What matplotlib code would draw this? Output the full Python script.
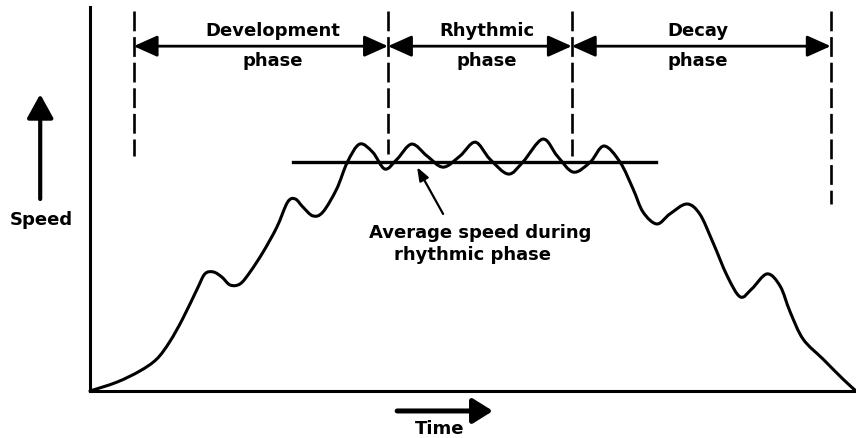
import matplotlib
matplotlib.use("Agg")
import matplotlib.pyplot as plt
import numpy as np
from matplotlib.patches import FancyArrowPatch, ArrowStyle, PathPatch
from matplotlib.path import Path

# ---- data (time 0-100, speed 0-100, arbitrary units) ----
time = [0, 3.5, 6.5, 8.7, 10.4, 12.1, 14.0, 15.0, 16.1, 17.2, 18.3, 19.6, 20.9, 22.6,
        24.4, 25.8, 26.8, 27.8, 29.1, 30.4, 32.2, 33.6, 35.2, 36.9, 38.5, 40.1, 42.0,
        44.0, 46.1, 48.3, 50.3, 52.2, 54.6, 56.5, 59.1, 61.0, 63.1, 65.3, 67.1, 69.2,
        70.9, 72.2, 74.0, 75.7, 77.9, 79.6, 81.3, 83.2, 84.9, 86.4, 88.4, 90.1, 91.4,
        93.1, 95.7, 98.3, 100]
speed = [0, 2.3, 5.2, 8.3, 12.8, 18.8, 26.6, 30.5, 31.0, 29.7, 27.6, 27.9, 31.0, 36.2,
         42.7, 49.2, 50.0, 47.9, 45.6, 46.6, 52.6, 59.6, 64.3, 62.2, 57.8, 60.4, 64.3,
         61.2, 58.3, 61.2, 64.8, 60.4, 56.5, 59.6, 65.6, 61.2, 57.0, 59.6, 63.8, 59.6,
         52.6, 46.6, 43.5, 46.1, 48.7, 46.1, 38.8, 29.9, 24.5, 26.6, 30.5, 27.3, 20.6,
         13.5, 8.3, 3.1, 0]

avg_speed = 59.6
avg_span = [26.5, 73.9]

phase_bounds = [5.7, 38.9, 62.9, 96.7]
bound_bottoms = [61.2, 61.7, 61.2, 48.7]
bound_top = 99.0
phase_labels = ["Development\nphase", "Rhythmic\nphase", "Decay\nphase"]
phase_label_x = [23.9, 51.8, 79.4]
phase_arrow_y = 89.8

fig = plt.figure(figsize=(8.56, 4.39), dpi=100)
fig.patch.set_facecolor("white")
ax = fig.add_axes([90/856, 47/439, 766/856, 384/439])
ax.set_xlim(0, 100)
ax.set_ylim(0, 100)
ax.set_xticks([])
ax.set_yticks([])
for s in ["top", "right"]:
    ax.spines[s].set_visible(False)
for s in ["left", "bottom"]:
    ax.spines[s].set_linewidth(2.2)
    ax.spines[s].set_color("black")

# main speed curve: smooth cubic Bezier path through the read points
P = np.column_stack([time, speed])
verts = [tuple(P[0])]
codes = [Path.MOVETO]
n = len(P)
for i in range(n - 1):
    p0 = P[i - 1] if i > 0 else P[i]
    p1, p2 = P[i], P[i + 1]
    p3 = P[i + 2] if i + 2 < n else P[i + 1]
    c1 = p1 + (p2 - p0) / 6.0
    c2 = p2 - (p3 - p1) / 6.0
    verts += [tuple(c1), tuple(c2), tuple(p2)]
    codes += [Path.CURVE4] * 3
ax.add_patch(PathPatch(Path(verts, codes), facecolor="none", edgecolor="black",
                       lw=2.2, joinstyle="round", capstyle="round", clip_on=False,
                       zorder=3))

# average speed line
ax.plot(avg_span, [avg_speed, avg_speed], color="black", lw=2.4, zorder=2)

# dashed phase boundaries
for x, yb in zip(phase_bounds, bound_bottoms):
    ax.plot([x, x], [bound_top, yb], color="black", lw=1.9,
            linestyle=(0, (7.5, 2.2)), clip_on=False)

fw = dict(family="DejaVu Sans", weight="bold", fontsize=13)

# double-headed phase arrows
style = ArrowStyle("<|-|>", head_length=1.45, head_width=0.65)
for i in range(3):
    a = FancyArrowPatch((phase_bounds[i], phase_arrow_y), (phase_bounds[i + 1], phase_arrow_y),
                        arrowstyle=style, mutation_scale=10, lw=2.0, color="black",
                        shrinkA=0, shrinkB=0, clip_on=False)
    ax.add_patch(a)
    ax.text(phase_label_x[i], phase_arrow_y + 0.2, phase_labels[i], ha="center",
            va="center", linespacing=1.85, **fw)

# annotation for average speed
ax.annotate("", xy=(42.7, 58.3), xytext=(46.1, 46.1),
            arrowprops=dict(arrowstyle=ArrowStyle("-|>", head_length=0.8, head_width=0.3),
                            mutation_scale=10, lw=1.6, color="black", shrinkA=0, shrinkB=0))
ax.text(50.9, 41.4, "Average speed during", ha="center", va="center", **fw)
ax.text(49.9, 35.7, "rhythmic phase", ha="center", va="center", **fw)

# Speed axis arrow and label
sp = FancyArrowPatch((-6.5, 50.0), (-6.5, 77.3),
                     arrowstyle=ArrowStyle("-|>", head_length=1.45, head_width=0.8),
                     mutation_scale=10, lw=3.0, color="black", shrinkA=0, shrinkB=0,
                     clip_on=False)
ax.add_patch(sp)
ax.text(-6.3, 44.8, "Speed", ha="center", va="center", clip_on=False, **fw)

# Time arrow and label
tp = FancyArrowPatch((40.1, -5.2), (52.6, -5.2),
                     arrowstyle=ArrowStyle("-|>", head_length=1.2, head_width=0.75),
                     mutation_scale=10, lw=3.6, color="black", shrinkA=0, shrinkB=0,
                     clip_on=False)
ax.add_patch(tp)
ax.text(45.7, -9.6, "Time", ha="center", va="center", clip_on=False, **fw)

fig.savefig("out.png", dpi=100, facecolor="white")
